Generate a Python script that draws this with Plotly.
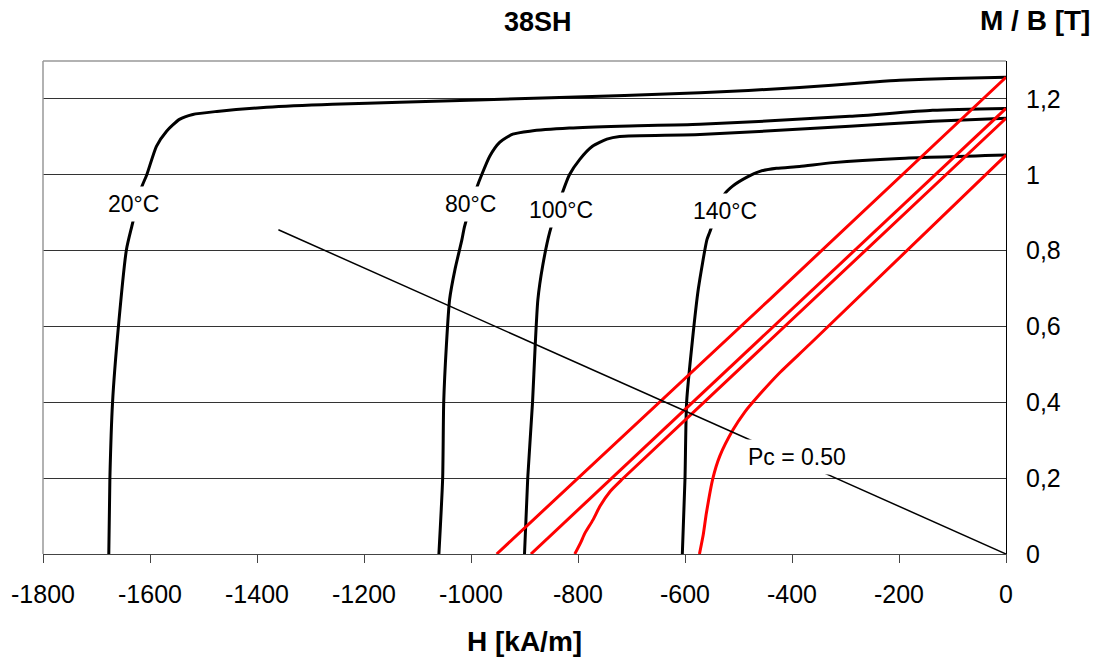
import plotly.graph_objects as go

# ---- data (H in kA/m, M/B in T) ----
h20 = [-1677, -1675, -1670, -1659, -1644, -1634, -1616, -1606, -1588, -1569, -1545, -1520, -1475, -1382, -1259, -1133, -850, -572, -386, -260, -199, -105, 0]
m20 = [0, 0.199, 0.4, 0.6, 0.803, 0.864, 0.966, 1.0, 1.075, 1.115, 1.146, 1.159, 1.167, 1.178, 1.186, 1.191, 1.203, 1.216, 1.230, 1.243, 1.249, 1.254, 1.257]

h80 = [-1060, -1053, -1051, -1046, -1040, -1030, -1017, -1012, -989, -980, -965, -946, -922, -890, -816, -722, -572, -292, -137, 0]
m80 = [0, 0.199, 0.4, 0.55, 0.671, 0.75, 0.829, 0.864, 0.967, 1.0, 1.049, 1.086, 1.107, 1.115, 1.123, 1.128, 1.133, 1.154, 1.170, 1.175]

h100 = [-900, -894, -885, -880, -875, -866, -853, -829, -816, -797, -773, -746, -722, -572, -292, -137, 0]
m100 = [0, 0.199, 0.4, 0.55, 0.671, 0.76, 0.848, 0.953, 1.0, 1.04, 1.075, 1.094, 1.101, 1.106, 1.128, 1.141, 1.149]

h140 = [-605, -600, -597, -586, -575, -559, -554, -526, -511, -485, -460, -429, -386, -323, -199, 0]
m140 = [0, 0.199, 0.4, 0.565, 0.7, 0.829, 0.848, 0.949, 0.970, 0.993, 1.009, 1.017, 1.022, 1.032, 1.043, 1.052]

bh20 = [-952, -442, 0]
b20 = [0, 0.671, 1.257]
bh80 = [-888, 0]
b80 = [0, 1.175]
bh100 = [-806, -795, -787, -772, -759, -740, -716, 0]
b100 = [0, 0.03, 0.055, 0.09, 0.126, 0.165, 0.199, 1.149]
bh140 = [-573, -566, -560, -548, -535, -510, -488, -466, -423, -367, 0]
b140 = [0, 0.05, 0.108, 0.199, 0.258, 0.328, 0.375, 0.412, 0.478, 0.553, 1.052]

pc_h = [-1360, 0]
pc_b = [0.855, 0]

label_text = ['20°C', '80°C', '100°C', '140°C', 'Pc = 0.50']
label_h = [-1630, -1001, -831, -526, -391]
label_m = [0.922, 0.922, 0.906, 0.904, 0.257]

x_tickvals = [-1800, -1600, -1400, -1200, -1000, -800, -600, -400, -200, 0]
x_ticktext = ['-1800', '-1600', '-1400', '-1200', '-1000', '-800', '-600', '-400', '-200', '0']
y_tickvals = [0, 0.2, 0.4, 0.6, 0.8, 1.0, 1.2]
y_ticktext = ['0', '0,2', '0,4', '0,6', '0,8', '1', '1,2']

FONT = "Liberation Sans, Arial, sans-serif"

fig = go.Figure()

for hx, my in [(h20, m20), (h80, m80), (h100, m100), (h140, m140)]:
    fig.add_trace(go.Scatter(x=hx, y=my, mode='lines',
                             line=dict(color='black', width=3, shape='spline', smoothing=0.6),
                             hoverinfo='skip'))
for hx, by in [(bh20, b20), (bh80, b80), (bh100, b100), (bh140, b140)]:
    fig.add_trace(go.Scatter(x=hx, y=by, mode='lines',
                             line=dict(color='#ff0000', width=3, shape='spline', smoothing=0.6),
                             hoverinfo='skip'))
fig.add_trace(go.Scatter(x=pc_h, y=pc_b, mode='lines',
                         line=dict(color='black', width=1.5), hoverinfo='skip'))

L, R, T, B = 43, 93, 61, 103
W, H = 1099, 657
PW, PH = W - L - R, H - T - B


def px(xp):
    return (xp - L) / PW


def py(yp):
    return (H - B - yp) / PH


annotations = []
for t, hx, my in zip(label_text, label_h, label_m):
    annotations.append(dict(x=hx, y=my, xref='x', yref='y', text=t, showarrow=False,
                            font=dict(family=FONT, size=23, color='black'),
                            bgcolor='white', borderpad=4, xanchor='center', yanchor='middle'))

annotations += [
    dict(x=px(538), y=py(22), xref='paper', yref='paper', text='<b>38SH</b>', showarrow=False,
         font=dict(family=FONT, size=27, color='black'), xanchor='center', yanchor='middle'),
    dict(x=px(1035), y=py(20), xref='paper', yref='paper', text='<b>M / B [T]</b>', showarrow=False,
         font=dict(family=FONT, size=28, color='black'), xanchor='center', yanchor='middle'),
    dict(x=px(524), y=py(641), xref='paper', yref='paper', text='<b>H [kA/m]</b>', showarrow=False,
         font=dict(family=FONT, size=28, color='black'), xanchor='center', yanchor='middle'),
]

shapes = [
    dict(type='line', xref='paper', yref='paper', x0=0, x1=0, y0=0, y1=1,
         line=dict(color='#999999', width=1.5)),
    dict(type='line', xref='paper', yref='paper', x0=0, x1=1, y0=1, y1=1,
         line=dict(color='#999999', width=1.5)),
]

fig.update_layout(
    width=W, height=H,
    margin=dict(l=L, r=R, t=T, b=B),
    paper_bgcolor='white', plot_bgcolor='white',
    showlegend=False,
    hovermode=False,
    font=dict(family=FONT, color='black'),
    annotations=annotations,
    shapes=shapes,
    xaxis=dict(range=[-1800, 0], tickvals=x_tickvals, ticktext=x_ticktext,
               showgrid=False, zeroline=False, showline=True, linecolor='#444444', linewidth=1,
               ticks='outside', ticklen=8, tickcolor='#444444', tickwidth=1,
               tickfont=dict(family=FONT, size=25, color='black'), ticklabelstandoff=10),
    yaxis=dict(range=[0, 1.3], side='right', tickvals=y_tickvals, ticktext=y_ticktext,
               showgrid=True, gridcolor='#333333', gridwidth=1, zeroline=False,
               showline=True, linecolor='black', linewidth=1, ticks='',
               tickfont=dict(family=FONT, size=25, color='black'), ticklabelstandoff=14),
)

fig.write_html("out.html", config={'displayModeBar': False},
               post_script="document.body.style.margin='0px';document.body.style.overflow='hidden';")
